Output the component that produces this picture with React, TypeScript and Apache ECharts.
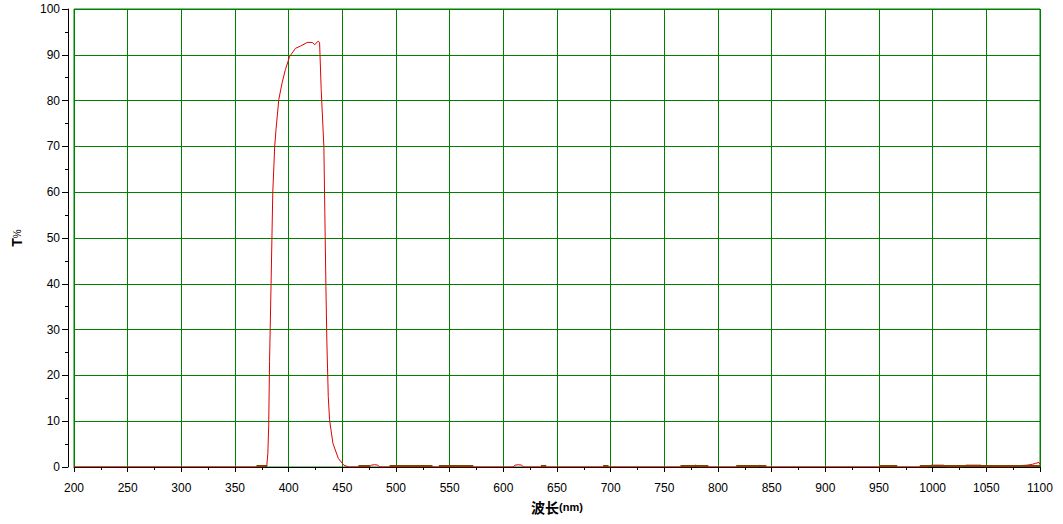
import React, { useEffect, useRef } from "react";
import * as echarts from "echarts";

// Transmission curve (wavelength nm, T%)
const redWavelengths = [200, 378, 379.6, 380.6, 381.4, 382.2, 383.6, 385.2, 387, 388.2, 390.8, 393.9, 397, 401, 403.3, 406.3, 411, 417.3, 421.9, 424.4, 427.5, 428.8, 430.3, 432.8, 433.7, 434.7, 435.6, 436.9, 438.1, 441.2, 446.2, 451.4, 456, 475, 477, 480, 483, 485, 609, 611, 614, 617, 619, 777, 779, 781, 837, 839, 841, 996, 999, 1010, 1013, 1028, 1031, 1045, 1048, 1075, 1080, 1088, 1093, 1096, 1099, 1100];
const redValues = [0, 0, 0.2, 3, 9, 23, 40, 60, 70, 73.7, 80.2, 83.9, 86.8, 89.7, 90.4, 91.4, 91.9, 92.7, 92.7, 92.2, 93, 92.7, 82.4, 70, 55.5, 39.4, 27.1, 15.4, 10.3, 5.2, 1.9, 0.4, 0, 0, 0.4, 0.5, 0.4, 0, 0, 0.4, 0.5, 0.4, 0, 0, 0.4, 0, 0, 0.4, 0, 0, 0.4, 0.4, 0, 0, 0.4, 0.4, 0, 0, 0.3, 0.4, 0.6, 0.8, 1.0, 0.6];

// Second (brown) trace, visible only where it lies just above the baseline
const brownSegmentStarts = [370, 465, 494, 540, 635, 693, 765, 817, 950, 988];
const brownSegmentEnds = [380, 476, 534, 572, 640, 698, 791, 845, 967, 1100];
const brownLevel = 0.2;

const xTicks = { min: 200, max: 1100, interval: 50 };
const yTicks = { min: 0, max: 100, interval: 10 };

export default function App() {
  const ref = useRef<HTMLDivElement>(null);
  useEffect(() => {
    if (!ref.current) return;
    const chart = echarts.init(ref.current, null, { renderer: "svg" });
    const redData = redWavelengths.map((w, i) => [w, redValues[i]]);
    const brownData: (number | null)[][] = [];
    brownSegmentStarts.forEach((s, i) => {
      brownData.push([s, brownLevel]);
      brownData.push([brownSegmentEnds[i], brownLevel]);
      brownData.push([brownSegmentEnds[i], null]);
    });
    const font = "'Liberation Sans', Arial, sans-serif";
    chart.setOption({
      animation: false,
      backgroundColor: "#ffffff",
      grid: {
        left: 74,
        right: 23,
        top: 9,
        bottom: 57,
        show: true,
        borderColor: "#008000",
        borderWidth: 1,
        backgroundColor: "transparent",
      },
      xAxis: {
        type: "value",
        min: xTicks.min,
        max: xTicks.max,
        interval: xTicks.interval,
        offset: 5,
        name: "{a|波长}{b|(nm)}",
        nameLocation: "middle",
        nameGap: 28,
        nameTextStyle: {
          rich: {
            a: { fontFamily: "'Noto Sans CJK SC'", fontSize: 14, fontWeight: "bold", color: "#000" },
            b: { fontFamily: font, fontSize: 11, fontWeight: "bold", color: "#000" },
          },
        },
        axisLine: { show: true, lineStyle: { color: "#000", width: 1 } },
        axisTick: { show: true, length: 5, lineStyle: { color: "#000" } },
        minorTick: { show: true, splitNumber: 2, length: 3, lineStyle: { color: "#000" } },
        axisLabel: { color: "#000", fontFamily: font, fontSize: 12, margin: 10, formatter: (v: number) => String(v) },
        splitLine: { show: true, lineStyle: { color: "#008000", width: 1 } },
      },
      yAxis: {
        type: "value",
        min: yTicks.min,
        max: yTicks.max,
        interval: yTicks.interval,
        offset: 6,
        name: "{a|T}{b|%}",
        nameLocation: "middle",
        nameRotate: 90,
        nameGap: 44,
        nameTextStyle: {
          rich: {
            a: { fontFamily: font, fontSize: 14, fontWeight: "bold", color: "#000" },
            b: { fontFamily: font, fontSize: 10, color: "#000" },
          },
        },
        axisLine: { show: true, lineStyle: { color: "#000", width: 1 } },
        axisTick: { show: true, length: 6, lineStyle: { color: "#000" } },
        minorTick: { show: true, splitNumber: 2, length: 3, lineStyle: { color: "#000" } },
        axisLabel: { color: "#000", fontFamily: font, fontSize: 12, margin: 8, formatter: (v: number) => String(v) },
        splitLine: { show: true, lineStyle: { color: "#008000", width: 1 } },
      },
      series: [
        {
          type: "line",
          data: redData,
          showSymbol: false,
          lineStyle: { color: "#e00000", width: 1 },
          z: 2,
        },
        {
          type: "line",
          data: brownData,
          showSymbol: false,
          connectNulls: false,
          lineStyle: { color: "#804000", width: 2 },
          z: 3,
        },
      ],
    });
    return () => chart.dispose();
  }, []);
  return (
    <div
      ref={ref}
      style={{ position: "fixed", left: 0, top: 0, width: 1063, height: 524 }}
    />
  );
}
